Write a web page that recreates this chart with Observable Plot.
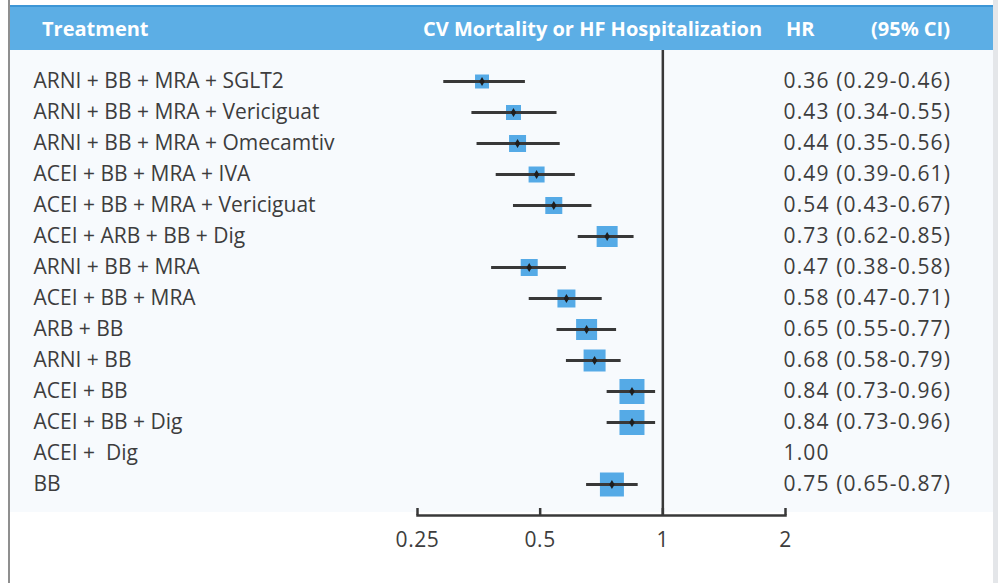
<!DOCTYPE html>
<html>
<head>
<meta charset="utf-8">
<script src="https://cdn.jsdelivr.net/npm/d3@7"></script>
<script src="https://cdn.jsdelivr.net/npm/@observablehq/plot@0.6"></script>
<style>
  html, body { margin: 0; padding: 0; background: #ffffff; }
  #wrap { position: relative; width: 998px; height: 583px; overflow: hidden; font-family: "Open Sans", sans-serif; }
  #panel { position: absolute; left: 10px; top: 50px; width: 983px; height: 462px; background: #f7fafd; }
  #lborder { position: absolute; left: 8px; top: 0; width: 2px; height: 583px; background: #8f8f8f; }
  #rborder { position: absolute; left: 993px; top: 0; width: 5px; height: 583px; background: #e4e6e9; }
  #header { position: absolute; left: 10px; top: 5px; width: 983px; height: 43px; background: #5caee5; border-top: 2px solid #3d96d6; }
  #header span { position: absolute; top: 8px; color: #ffffff; font-weight: 700; font-size: 20px; white-space: nowrap; }
  #chart { position: absolute; left: 0; top: 50px; }
  #chart svg text { white-space: pre; }
</style>
</head>
<body>
<div id="wrap">
  <div id="panel"></div>
  <div id="lborder"></div>
  <div id="rborder"></div>
  <div id="header">
    <span style="left:32px">Treatment</span>
    <span style="left:413px">CV Mortality or HF Hospitalization</span>
    <span style="left:776px">HR</span>
    <span style="left:861px">(95% CI)</span>
  </div>
  <div id="chart"></div>
</div>
<script>
const treatments = [
  "ARNI + BB + MRA + SGLT2",
  "ARNI + BB + MRA + Vericiguat",
  "ARNI + BB + MRA + Omecamtiv",
  "ACEI + BB + MRA + IVA",
  "ACEI + BB + MRA + Vericiguat",
  "ACEI + ARB + BB + Dig",
  "ARNI + BB + MRA",
  "ACEI + BB + MRA",
  "ARB + BB",
  "ARNI + BB",
  "ACEI + BB",
  "ACEI + BB + Dig",
  "ACEI +  Dig",
  "BB"
];
const hr    = [0.36, 0.43, 0.44, 0.49, 0.54, 0.73, 0.47, 0.58, 0.65, 0.68, 0.84, 0.84, 1.00, 0.75];
const lower = [0.29, 0.34, 0.35, 0.39, 0.43, 0.62, 0.38, 0.47, 0.55, 0.58, 0.73, 0.73, null, 0.65];
const upper = [0.46, 0.55, 0.56, 0.61, 0.67, 0.85, 0.58, 0.71, 0.77, 0.79, 0.96, 0.96, null, 0.87];
const weight = [14, 15, 17, 16, 17, 21, 17, 18, 21, 22, 25, 25, null, 24];
const xTicks = [0.25, 0.5, 1, 2];
const xTickLabels = ["0.25", "0.5", "1", "2"];

const rows = treatments.map((t, i) => ({
  name: t, hr: hr[i], lo: lower[i], hi: upper[i], w: weight[i],
  label: lower[i] == null ? hr[i].toFixed(2) : `${hr[i].toFixed(2)} (${lower[i].toFixed(2)}-${upper[i].toFixed(2)})`
}));
const est = rows.filter(d => d.lo != null);

const textColor = "#3d3d3d";
const lineColor = "#383838";

const chart = Plot.plot({
  width: 998,
  height: 533,
  marginLeft: 417,
  marginRight: 213,
  marginTop: 0,
  marginBottom: 68,
  style: { fontFamily: "'Open Sans', sans-serif", background: "transparent", overflow: "visible" },
  x: { type: "log", domain: [0.25, 2] },
  y: { type: "point", domain: treatments, padding: 0, insetTop: 28, insetBottom: 28, axis: null },
  r: { type: "linear", domain: [0, 25], range: [0, 25 / Math.sqrt(Math.PI)] },
  marks: [
    Plot.ruleX([1], { stroke: lineColor, strokeWidth: 2.5 }),
    Plot.frame({ anchor: "bottom", stroke: lineColor, strokeWidth: 2.5 }),
    Plot.tickX(xTicks, { x: d => d, insetTop: 458, stroke: lineColor, strokeWidth: 2.5 }),
    Plot.axisX({ ticks: xTicks, tickFormat: d => xTickLabels[xTicks.indexOf(d)], tickSize: 0, tickPadding: 17, fontSize: 21, fill: textColor, label: null }),
    Plot.dot(est, { x: "hr", y: "name", r: "w", symbol: "square", fill: "#55aae6", stroke: "none" }),
    Plot.ruleY(est, { y: "name", x1: "lo", x2: "hi", stroke: lineColor, strokeWidth: 3 }),
    Plot.dot(est, { x: "hr", y: "name", r: 2.8, symbol: "diamond", fill: "#1e1e1e", stroke: "none" }),
    Plot.text(rows, { y: "name", text: "name", frameAnchor: "left", textAnchor: "start", dx: -384, fontSize: 21, fill: textColor }),
    Plot.text(rows, { y: "name", text: "label", frameAnchor: "right", textAnchor: "start", dx: -2, fontSize: 21, fill: textColor })
  ]
});
const textGroups = d3.select(chart).selectAll('g[aria-label="text"]').nodes();
if (textGroups.length) d3.select(textGroups[textGroups.length - 1]).selectAll("text").style("letter-spacing", "1.15px");
d3.select(chart).selectAll('g[aria-label="x-axis tick label"] text').style("letter-spacing", "0.6px");
document.getElementById("chart").appendChild(chart);
</script>
</body>
</html>
